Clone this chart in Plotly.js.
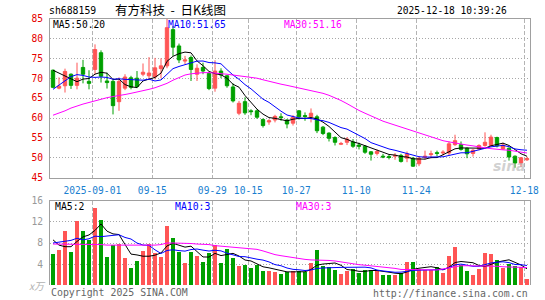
<!DOCTYPE html>
<html><head><meta charset="utf-8">
<script src="https://cdn.plot.ly/plotly-3.0.1.min.js"></script>
<style>html,body{margin:0;padding:0;background:#fff;overflow:hidden}</style>
</head><body><div id="chart" style="width:545px;height:300px"></div>
<script>
// ---- data ----
const dates = [
 '2025-08-21','2025-08-22','2025-08-25','2025-08-26','2025-08-27','2025-08-28','2025-08-29',
 '2025-09-01','2025-09-02','2025-09-03','2025-09-04','2025-09-05','2025-09-08','2025-09-09','2025-09-10','2025-09-11','2025-09-12',
 '2025-09-15','2025-09-16','2025-09-17','2025-09-18','2025-09-19','2025-09-22','2025-09-23','2025-09-24','2025-09-25','2025-09-26',
 '2025-09-29','2025-09-30','2025-10-09','2025-10-10','2025-10-13','2025-10-14','2025-10-15','2025-10-16','2025-10-17',
 '2025-10-20','2025-10-21','2025-10-22','2025-10-23','2025-10-24','2025-10-27','2025-10-28','2025-10-29','2025-10-30','2025-10-31',
 '2025-11-03','2025-11-04','2025-11-05','2025-11-06','2025-11-07','2025-11-10','2025-11-11','2025-11-12','2025-11-13','2025-11-14',
 '2025-11-17','2025-11-18','2025-11-19','2025-11-20','2025-11-21','2025-11-24','2025-11-25','2025-11-26','2025-11-27','2025-11-28',
 '2025-12-01','2025-12-02','2025-12-03','2025-12-04','2025-12-05','2025-12-08','2025-12-09','2025-12-10','2025-12-11','2025-12-12',
 '2025-12-15','2025-12-16','2025-12-17','2025-12-18'];
const open = [72.0,67.5,68.1,71.0,68.2,72.7,69.2,72.2,76.4,69.3,69.2,64.1,67.5,70.1,70.0,71.0,70.6,70.3,72.4,73.1,
 82.2,78.1,74.3,75.2,71.0,72.7,71.2,67.5,71.8,70.6,67.8,61.2,64.1,61.8,61.8,59.6,59.0,59.5,60.3,59.5,
 58.7,61.8,60.6,60.3,60.3,57.7,56.2,55.1,53.4,53.9,54.0,53.2,52.9,51.5,51.1,50.4,50.3,50.4,50.6,49.9,
 49.9,48.5,50.1,50.8,51.3,51.2,51.2,53.3,53.3,52.4,51.1,52.2,53.1,53.1,55.1,52.2,52.4,50.4,48.7,49.5];
const high = [72.2,70.2,72.4,71.2,73.9,74.6,72.0,78.5,77.0,71.4,69.8,70.2,71.0,70.6,71.8,73.7,75.3,75.1,75.0,84.9,
 83.1,78.7,75.6,75.7,73.5,73.9,71.5,74.5,72.5,70.8,68.7,64.3,65.2,62.2,62.2,59.9,59.7,60.8,61.2,59.7,
 60.7,62.0,61.4,62.4,60.8,58.0,56.4,55.4,54.0,55.2,54.7,53.8,53.2,51.7,52.1,51.0,50.8,51.2,51.0,51.6,
 50.2,50.4,51.8,51.8,51.8,51.9,54.1,55.8,54.1,52.6,52.2,53.4,56.4,55.8,55.3,53.8,52.6,50.6,50.2,50.3];
const low = [67.5,67.2,66.4,67.3,67.2,68.7,67.2,71.0,68.9,67.4,60.9,61.8,67.0,67.2,67.5,70.5,69.8,69.7,70.0,72.5,
 75.6,73.8,73.5,69.3,69.3,71.0,67.0,66.6,70.0,67.6,63.9,60.7,60.8,60.7,59.8,57.6,58.3,58.9,59.3,57.4,
 58.1,59.6,59.3,58.9,56.2,55.7,54.1,53.1,53.2,53.2,52.5,52.1,51.0,49.3,50.6,49.9,49.6,49.5,48.8,48.9,
 47.7,47.9,49.6,49.9,50.4,50.6,50.7,53.0,51.8,49.9,50.3,51.9,52.8,52.8,52.6,52.0,49.3,47.5,47.7,49.2];
const close = [67.7,68.0,71.7,68.2,70.0,71.0,68.7,77.2,70.5,68.9,63.1,69.2,70.3,67.7,67.9,71.5,71.3,72.6,73.1,82.7,
 77.8,74.6,74.6,72.2,72.5,71.8,67.4,71.8,70.8,68.1,64.3,63.7,61.3,61.6,60.2,58.1,59.3,60.4,60.1,58.5,
 60.2,60.3,60.4,61.2,56.8,56.1,54.9,53.9,53.6,54.7,52.9,52.9,51.4,50.9,51.6,50.2,50.1,50.6,49.1,51.0,
 47.9,49.9,50.4,51.0,51.1,51.4,53.5,54.3,52.1,51.0,51.9,53.1,53.9,55.2,53.0,53.2,50.2,48.7,50.0,49.8];
const volume = [5.95,6.7,10.3,6.3,12.2,10.3,8.5,14.6,12.4,5.4,7.7,7.9,5.2,3.3,4.6,6.5,7.9,6.2,5.4,11.2,
 9.0,6.3,4.2,6.3,5.6,4.4,6.2,7.7,4.2,6.9,5.2,3.7,3.9,3.3,3.9,2.7,2.7,2.6,2.1,2.6,
 2.7,2.8,2.6,4.3,6.7,3.7,3.5,2.9,2.1,2.7,3.1,2.4,2.9,2.9,2.7,1.95,1.95,1.95,2.4,4.4,
 4.4,3.0,2.9,2.9,3.4,2.4,5.6,7.2,3.9,2.7,1.95,3.0,6.1,6.0,4.8,3.2,4.0,3.7,3.5,1.2];
// MA30 lines (they depend on data before the window)
const priceMa30 = [60.7,61.2,61.8,62.5,63.1,63.5,63.9,64.3,64.8,65.1,65.4,65.6,65.9,66.2,66.5,66.8,67.2,67.6,68.1,68.7,
 69.5,70.2,70.8,71.1,71.3,71.4,71.4,71.3,71.2,71.0,70.8,70.6,70.4,70.2,70.0,69.6,69.2,68.9,68.5,68.2,
 67.9,67.5,67.2,66.9,66.6,66.2,65.7,65.1,64.4,63.6,62.7,61.9,61.2,60.5,59.8,59.2,58.7,58.2,57.7,57.1,
 56.6,56.1,55.6,55.1,54.7,54.3,54.0,53.7,53.5,53.2,53.0,52.7,52.5,52.3,52.1,52.0,51.9,51.7,51.4,51.2];
const volMa30 = [7.8,7.8,7.8,7.7,7.7,7.7,7.7,7.7,7.7,7.6,7.6,7.6,7.6,7.5,7.5,7.5,7.6,7.6,7.7,8.0,
 8.0,8.0,8.0,7.9,7.8,7.8,7.7,7.5,7.4,7.3,7.3,7.2,7.1,7.0,6.8,6.5,6.1,5.8,5.6,5.4,
 5.2,5.0,4.9,4.8,4.8,4.7,4.7,4.6,4.4,4.2,4.0,3.9,3.8,3.7,3.5,3.4,3.3,3.2,3.0,3.0,
 3.0,2.9,2.9,2.9,2.9,3.1,3.3,3.5,3.7,3.7,3.7,3.7,3.7,3.6,3.6,3.5,3.5,3.4,3.4,3.35];
// first points of the short MAs (their windows start before the visible data)
const priceMa5Head = [72.0,71.3,70.6,69.9];
const priceMa10Head = [67.2,68.2,69.3,70.4,70.9,70.7,70.3,70.2,70.3];
const volMa5Head = [8.6,7.6,7.3,7.3];
const volMa10Head = [8.0,8.2,8.3,8.5,8.9,8.6,8.8,9.3,9.2];
const tickDates = ['2025-09-01','2025-09-15','2025-09-29','2025-10-15','2025-10-27','2025-11-10','2025-11-24','2025-12-18'];
const tickText = ['2025-09-01','09-15','09-29','10-15','10-27','11-10','11-24','12-18'];
const priceTicks = [45,50,55,60,65,70,75,80,85];
const volTicks = [4,8,12,16];
const maLabels = {p5:'MA5:50.20', p10:'MA10:51.65', p30:'MA30:51.16', v5:'MA5:2', v10:'MA10:3', v30:'MA30:3'};

// ---- helpers ----
function movingAvg(vals, n, head) {
  return vals.map((v, i) => {
    if (i < n - 1) return head[i];
    let s = 0; for (let k = i - n + 1; k <= i; k++) s += vals[k];
    return s / n;
  });
}
const xIdx = dates.map((d, i) => i);
const RED = '#ff5555', GREEN = '#00a000', BLUE = '#0000ff', MAG = '#ff00ff';
const MONO = 'DejaVu Sans Mono, monospace';
const W = 545, H = 300, L = 50, R = 530;
const volColors = close.map((c, i) => c >= open[i] ? RED : GREEN);
const tickvals = tickDates.map(d => dates.indexOf(d) - 0.45);

const traces = [
  {type:'candlestick', x:xIdx, open:open, high:high, low:low, close:close,
   increasing:{line:{color:RED,width:1}, fillcolor:RED},
   decreasing:{line:{color:GREEN,width:1}, fillcolor:GREEN},
   whiskerwidth:0, hoverinfo:'skip', xaxis:'x', yaxis:'y', showlegend:false},
  {type:'scatter', mode:'lines', x:xIdx, y:movingAvg(close,5,priceMa5Head), line:{color:'#000',width:1}, xaxis:'x', yaxis:'y', hoverinfo:'skip'},
  {type:'scatter', mode:'lines', x:xIdx, y:movingAvg(close,10,priceMa10Head), line:{color:BLUE,width:1}, xaxis:'x', yaxis:'y', hoverinfo:'skip'},
  {type:'scatter', mode:'lines', x:xIdx, y:priceMa30, line:{color:MAG,width:1}, xaxis:'x', yaxis:'y', hoverinfo:'skip'},
  {type:'bar', x:xIdx, y:volume, width:0.82, marker:{color:volColors, line:{width:0}}, xaxis:'x2', yaxis:'y2', hoverinfo:'skip'},
  {type:'scatter', mode:'lines', x:xIdx, y:movingAvg(volume,5,volMa5Head), line:{color:'#000',width:1}, xaxis:'x2', yaxis:'y2', hoverinfo:'skip'},
  {type:'scatter', mode:'lines', x:xIdx, y:movingAvg(volume,10,volMa10Head), line:{color:BLUE,width:1}, xaxis:'x2', yaxis:'y2', hoverinfo:'skip'},
  {type:'scatter', mode:'lines', x:xIdx, y:volMa30, line:{color:MAG,width:1}, xaxis:'x2', yaxis:'y2', hoverinfo:'skip'}
];

function ann(text, px, py, xanchor, font) {
  return {text:text, xref:'paper', yref:'paper', x:px/W, y:1-py/H, xanchor:xanchor, yanchor:'middle',
          showarrow:false, font:font, borderpad:0};
}
const f = (size, color, family) => ({family: family || MONO, size:size, color:color});

const layout = {
  width:W, height:H, margin:{l:0,r:0,t:0,b:0}, paper_bgcolor:'#fff', plot_bgcolor:'#fff',
  showlegend:false, bargap:0, boxgap:0.2,
  xaxis:{domain:[L/W, R/W], range:[-0.5, 79.5], anchor:'y', tickmode:'array', tickvals:tickvals, ticktext:tickText,
    tickfont:f(9.6,'#1a7fd0'), ticks:'', ticklabelstandoff:4, showgrid:true, gridcolor:'#b4b4b4', griddash:'4px,2px', gridwidth:1,
    showline:true, mirror:true, linecolor:'#a0a0a0', linewidth:1, zeroline:false, rangeslider:{visible:false}, fixedrange:true},
  yaxis:{domain:[1-177.7/H, 1-18.5/H], range:[45,85], anchor:'x', tickmode:'array', tickvals:priceTicks,
    tickfont:f(9.6,'#e60000'), ticks:'', ticklabelstandoff:4, showgrid:true, gridcolor:'#a8a8a8', griddash:'1px,2px', gridwidth:1,
    showline:true, mirror:true, linecolor:'#a0a0a0', linewidth:1, zeroline:false, fixedrange:true},
  xaxis2:{domain:[L/W, R/W], matches:'x', anchor:'y2', side:'top', tickmode:'array', tickvals:tickvals, showticklabels:false, ticks:'',
    showgrid:true, gridcolor:'#b4b4b4', griddash:'4px,2px', gridwidth:1, showline:true, mirror:false, linecolor:'#a0a0a0', linewidth:1,
    zeroline:false, rangeslider:{visible:false}, fixedrange:true},
  yaxis2:{domain:[1-285.3/H, 1-200.7/H], range:[0,16], anchor:'x2', tickmode:'array', tickvals:volTicks,
    tickfont:f(9.6,'#999999'), ticks:'', ticklabelstandoff:4, showgrid:true, gridcolor:'#a8a8a8', griddash:'1px,2px', gridwidth:1,
    showline:true, mirror:true, linecolor:'#a0a0a0', linewidth:1, zeroline:false, fixedrange:true},
  annotations:[
    ann('sh688159', 48, 11, 'left', f(9.8,'#000')),
    ann('有方科技\u00a0\u00a0-\u00a0\u00a0日K线图', 170, 10, 'center', f(12.5,'#000','Noto Sans CJK SC')),
    ann('2025-12-18 10:39:26', 508, 11, 'right', f(9.6,'#000')),
    ann(maLabels.p5, 52, 24.5, 'left', f(9.6,'#000')),
    ann(maLabels.p10, 167, 24.5, 'left', f(9.6,BLUE)),
    ann(maLabels.p30, 283, 24.5, 'left', f(9.6,MAG)),
    ann(maLabels.v5, 54, 206.5, 'left', f(9.8,'#000')),
    ann(maLabels.v10, 174, 206.5, 'left', f(9.8,BLUE)),
    ann(maLabels.v30, 295, 206.5, 'left', f(9.8,MAG)),
    ann('x万', 28, 285, 'left', {family:'Noto Sans CJK SC', size:10, color:'#b0b0b0', style:'italic'}),
    ann('Copyright 2025 SINA.COM', 50, 292.5, 'left', f(9.9,'#666')),
    ann('http://finance.sina.com.cn', 529, 293, 'right', f(9.9,'#666')),
    ann('<b><i>sina</i></b>', 527, 166, 'right', {family:'DejaVu Sans', size:14, color:'rgba(170,170,170,0.55)'})
  ]
};

Plotly.newPlot('chart', traces, layout, {staticPlot:true, displayModeBar:false});
</script>
</body></html>
